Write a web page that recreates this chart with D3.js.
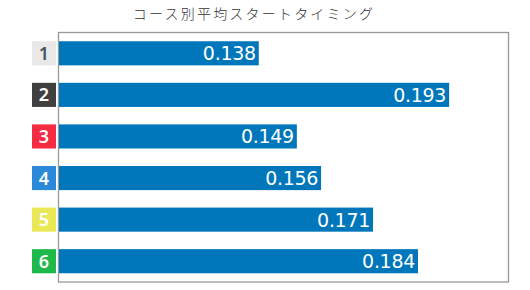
<!DOCTYPE html>
<html>
<head>
<meta charset="utf-8">
<script src="https://cdn.jsdelivr.net/npm/d3@7"></script>
<style>
  body { margin: 0; background: #fff; }
  svg { display: block; }
</style>
</head>
<body>
<div id="chart"></div>
<script>
// data
const courses = ["1", "2", "3", "4", "5", "6"];
const avgST = [0.138, 0.193, 0.149, 0.156, 0.171, 0.184];
const boxColors = ["#e8e8e8", "#404040", "#f42b41", "#2c89d9", "#ebe858", "#1fb84a"];
const boxText = ["#4a5560", "#fff", "#fff", "#fff", "#fff", "#fff"];
const title = "コース別平均スタートタイミング";

const width = 530, height = 290;
const plotLeft = 58, plotRight = 508, plotTop = 32.5, plotBottom = 282;

const svg = d3.select("#chart").append("svg")
  .attr("width", width)
  .attr("height", height);

// scales
const x = d3.scaleLinear().domain([0.08, 0.21]).range([plotLeft, plotRight]);
const y = d3.scaleBand().domain(courses).range([plotTop, plotBottom])
  .paddingInner(0.42).paddingOuter(0.21);

// title
svg.append("text")
  .attr("x", 254)
  .attr("y", 19)
  .attr("text-anchor", "middle")
  .attr("font-family", "'Noto Sans CJK JP', sans-serif")
  .attr("font-size", 14)
  .attr("font-weight", 300)
  .attr("letter-spacing", 2.2)
  .attr("fill", "#333")
  .text(title);

// frame
svg.append("rect")
  .attr("x", plotLeft + 0.5)
  .attr("y", plotTop)
  .attr("width", plotRight - plotLeft)
  .attr("height", plotBottom - plotTop)
  .attr("fill", "none")
  .attr("stroke", "#999")
  .attr("stroke-width", 1.3);

const rows = svg.selectAll("g.row")
  .data(courses)
  .enter()
  .append("g")
  .attr("class", "row");

// bars
rows.append("rect")
  .attr("x", x(0.08) + 1)
  .attr("y", d => y(d))
  .attr("width", (d, i) => x(avgST[i]) - x(0.08) - 1)
  .attr("height", y.bandwidth())
  .attr("fill", "#0077bb");

// value labels
rows.append("text")
  .attr("x", (d, i) => x(avgST[i]) - 3)
  .attr("y", d => y(d) + y.bandwidth() / 2)
  .attr("dy", "0.37em")
  .attr("text-anchor", "end")
  .attr("font-family", "'DejaVu Sans', sans-serif")
  .attr("font-size", 19)
  .attr("letter-spacing", -0.3)
  .attr("fill", "#fff")
  .text((d, i) => avgST[i].toFixed(3));

// course boxes
rows.append("rect")
  .attr("x", 32)
  .attr("y", d => y(d))
  .attr("width", 24)
  .attr("height", y.bandwidth())
  .attr("fill", (d, i) => boxColors[i]);

rows.append("text")
  .attr("x", 44)
  .attr("y", d => y(d) + y.bandwidth() / 2)
  .attr("dy", "0.36em")
  .attr("text-anchor", "middle")
  .attr("font-family", "'Noto Sans', sans-serif")
  .attr("font-weight", 600)
  .attr("font-size", 18)
  .attr("fill", (d, i) => boxText[i])
  .text(d => d);
</script>
</body>
</html>
